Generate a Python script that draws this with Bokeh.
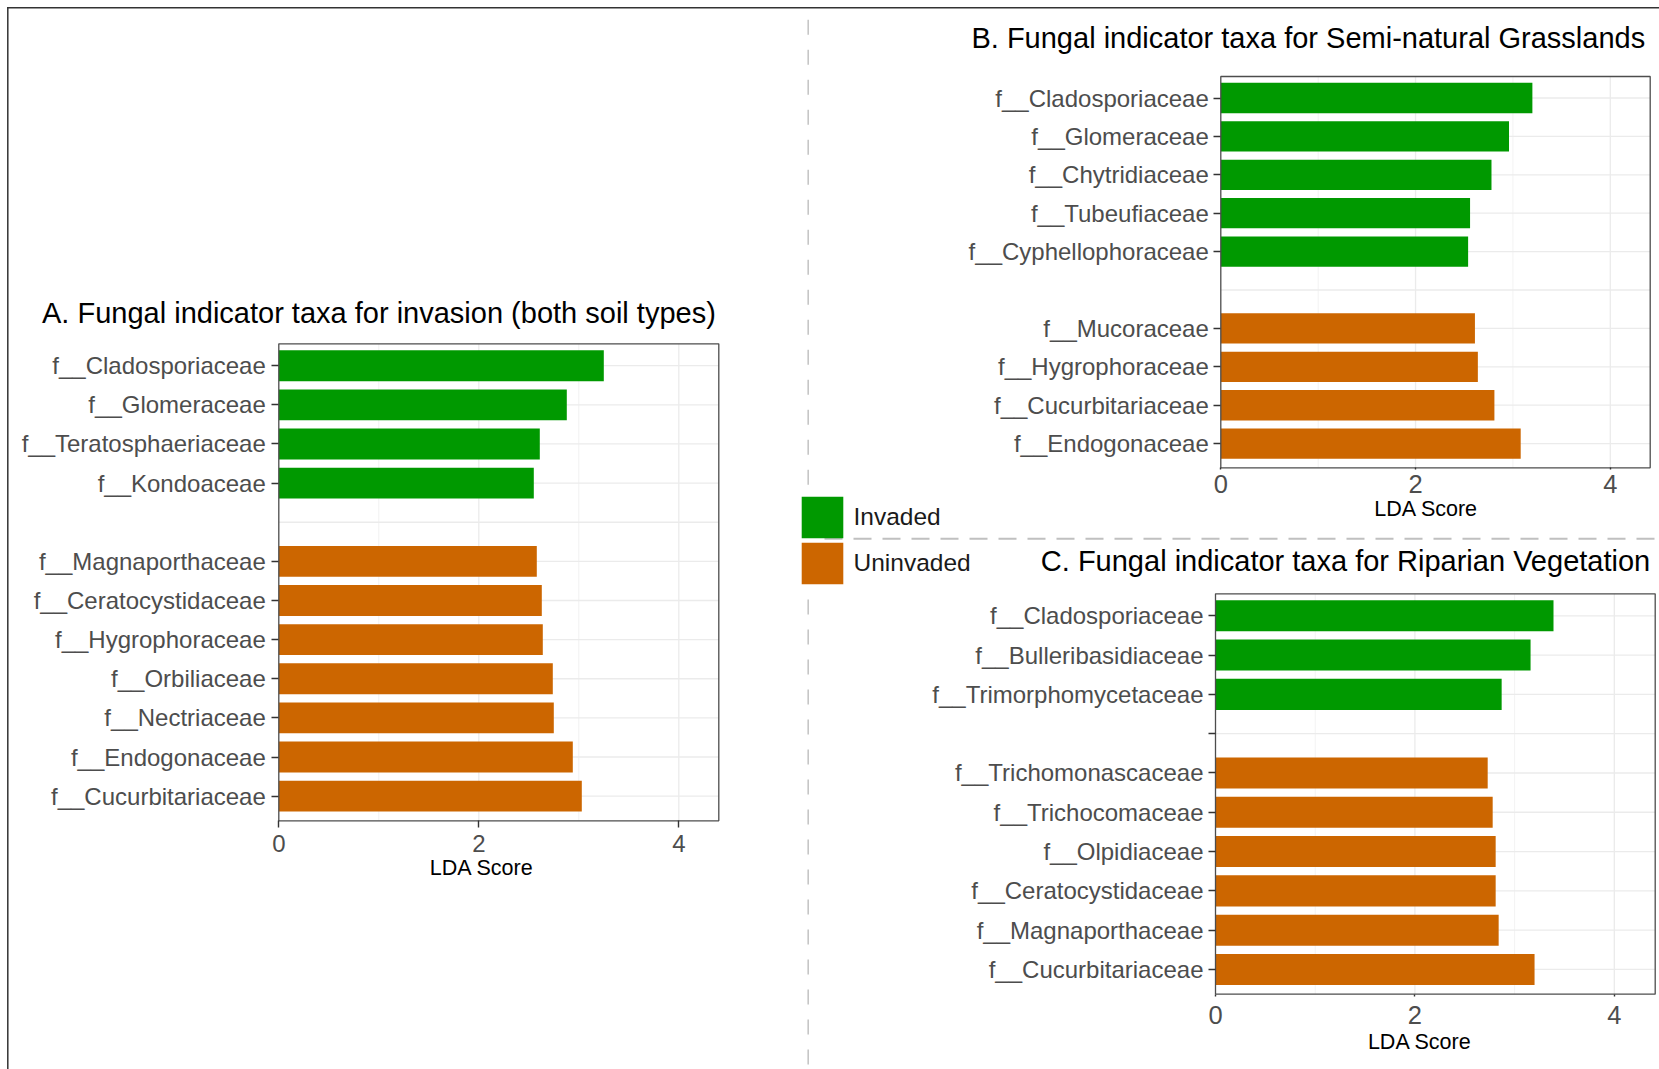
from bokeh.plotting import figure
from bokeh.models import (Range1d, FixedTicker, ColumnDataSource, LinearAxis,
                          Legend, LegendItem, Label, Grid)
from bokeh.embed import file_html
from bokeh.resources import INLINE

FONT = "Liberation Sans"
GREEN = "#009900"
ORANGE = "#CC6600"

# ---------------- data ----------------
a_inv_taxa = ["f__Cladosporiaceae", "f__Glomeraceae", "f__Teratosphaeriaceae", "f__Kondoaceae"]
a_inv_lda = [3.25, 2.88, 2.61, 2.55]
a_uninv_taxa = ["f__Magnaporthaceae", "f__Ceratocystidaceae", "f__Hygrophoraceae",
                "f__Orbiliaceae", "f__Nectriaceae", "f__Endogonaceae", "f__Cucurbitariaceae"]
a_uninv_lda = [2.58, 2.63, 2.64, 2.74, 2.75, 2.94, 3.03]

b_inv_taxa = ["f__Cladosporiaceae", "f__Glomeraceae", "f__Chytridiaceae",
              "f__Tubeufiaceae", "f__Cyphellophoraceae"]
b_inv_lda = [3.20, 2.96, 2.78, 2.56, 2.54]
b_uninv_taxa = ["f__Mucoraceae", "f__Hygrophoraceae", "f__Cucurbitariaceae", "f__Endogonaceae"]
b_uninv_lda = [2.61, 2.64, 2.81, 3.08]

c_inv_taxa = ["f__Cladosporiaceae", "f__Bulleribasidiaceae", "f__Trimorphomycetaceae"]
c_inv_lda = [3.39, 3.16, 2.87]
c_uninv_taxa = ["f__Trichomonascaceae", "f__Trichocomaceae", "f__Olpidiaceae",
                "f__Ceratocystidaceae", "f__Magnaporthaceae", "f__Cucurbitariaceae"]
c_uninv_lda = [2.73, 2.78, 2.81, 2.81, 2.84, 3.20]

x_ticks = [0, 2, 4]
x_minor_ticks = [1, 3]
legend_labels = ["Invaded", "Uninvaded"]
x_label = "LDA Score"
title_a = "A. Fungal indicator taxa for invasion (both soil types)"
title_b = "B. Fungal indicator taxa for Semi-natural Grasslands"
title_c = "C. Fungal indicator taxa for Riparian Vegetation"

# ---------------- canvas ----------------
W, H = 1659, 1069
PAD_TOP, PAD_BOT = 0.06, 0.13

p = figure(width=W, height=H, output_backend="svg", toolbar_location=None,
           x_range=Range1d(0, W), y_range=Range1d(H, 0), min_border=0,
           x_axis_location=None, y_axis_location=None, title=None)
p.outline_line_color = None
p.background_fill_color = "white"
p.border_fill_color = "white"
for g in p.select(type=Grid):
    g.visible = False

# page frame and dashed vertical separator (pixel coordinates, y downwards)
p.segment(x0=[807.7], y0=[7.3], x1=[807.7], y1=[488], line_color="#c6c6c6",
          line_width=1.6, line_dash="15 15", line_dash_offset=18)
p.segment(x0=[807.7], y0=[592], x1=[807.7], y1=[H], line_color="#c6c6c6",
          line_width=1.6, line_dash="15 15", line_dash_offset=23)
p.segment(x0=[7.3, 6.6], y0=[6.6, 7.3], x1=[7.3, W], y1=[H, 7.3],
          line_color="#333333", line_width=1.5)
# horizontal separator
p.segment(x0=[824], y0=[538.3], x1=[W], y1=[538.3], line_color="#c0c0c0",
          line_width=2, line_dash="18 11")


def add_panel(key, inv_taxa, inv_lda, un_taxa, un_lda, title, frame, x_end, cfg):
    fl, ft, fr, fb = frame
    taxa = inv_taxa + [""] + un_taxa
    n = len(taxa)
    blank = len(inv_taxa)
    y_top = -0.5 - PAD_TOP
    y_bot = n - 0.5 + PAD_BOT
    sx = (fr - fl) / x_end
    sy = (fb - ft) / (y_bot - y_top)
    xr, yr = "x" + key, "y" + key
    p.extra_x_ranges[xr] = Range1d(-fl / sx, x_end + (W - fr) / sx)
    p.extra_y_ranges[yr] = Range1d(y_bot + (H - fb) / sy, y_top - ft / sy)
    kw = dict(x_range_name=xr, y_range_name=yr)

    # grid lines
    gmaj = [t for t in x_ticks if 0 < t < x_end]
    gmin = [t for t in x_minor_ticks if 0 < t < x_end]
    p.segment(x0=gmin, x1=gmin, y0=[y_top] * len(gmin), y1=[y_bot] * len(gmin),
              line_color="#f0f0f0", line_width=0.9, **kw)
    p.segment(x0=gmaj, x1=gmaj, y0=[y_top] * len(gmaj), y1=[y_bot] * len(gmaj),
              line_color="#ebebeb", line_width=1.3, **kw)
    rows = list(range(n))
    p.segment(x0=[0] * n, x1=[x_end] * n, y0=rows, y1=rows,
              line_color="#ebebeb", line_width=1.3, **kw)

    # bars
    s_inv = ColumnDataSource(dict(row=list(range(blank)), lda=inv_lda))
    s_un = ColumnDataSource(dict(row=list(range(blank + 1, n)), lda=un_lda))
    r_inv = p.hbar(y="row", left=0, right="lda", height=0.79, source=s_inv,
                   fill_color=GREEN, line_color=None, **kw)
    r_un = p.hbar(y="row", left=0, right="lda", height=0.79, source=s_un,
                  fill_color=ORANGE, line_color=None, **kw)

    # panel border
    p.quad(left=[0], right=[x_end], top=[y_top], bottom=[y_bot], fill_color=None,
           line_color="#4d4d4d", line_width=1.3, **kw)

    # axes
    yticks = rows if cfg["blank_tick"] else [r for r in rows if r != blank]
    yax = LinearAxis(fixed_location=0, ticker=FixedTicker(ticks=yticks),
                     major_label_overrides={r: taxa[r] for r in rows},
                     bounds=(y_top, y_bot), **kw)
    xax = LinearAxis(fixed_location=y_bot, ticker=FixedTicker(ticks=x_ticks),
                     bounds=(0, x_end), **kw)
    for ax in (xax, yax):
        ax.axis_line_color = None
        ax.major_tick_in = 0
        ax.minor_tick_out = 0
        ax.minor_tick_in = 0
        ax.major_tick_line_color = "#333333"
        ax.major_tick_line_width = 1.4
        ax.major_label_text_font = FONT
        ax.major_label_text_color = "#4d4d4d"
    yax.major_label_text_font_size = "24px"
    yax.major_tick_out = 7
    yax.major_label_standoff = cfg["y_standoff"]
    xax.major_label_text_font_size = cfg["xtick_size"]
    xax.major_tick_out = cfg["x_tick_out"]
    xax.major_label_standoff = cfg["x_standoff"]
    p.add_layout(yax, "left")
    p.add_layout(xax, "below")

    # title and axis title
    p.add_layout(Label(x=x_end, y=y_top, x_offset=-cfg["title_dx"], y_offset=cfg["title_dy"],
                       text=title, text_align="right", text_baseline="alphabetic",
                       text_font=FONT, text_font_size="29px", text_color="#000000", **kw))
    p.add_layout(Label(x=cfg["xlab_x"], y=y_bot, y_offset=-cfg["xlab_dy"], text=x_label,
                       text_align="center", text_baseline="middle",
                       text_font=FONT, text_font_size="21.5px", text_color="#000000", **kw))
    return r_inv, r_un


rAi, rAu = add_panel("A", a_inv_taxa, a_inv_lda, a_uninv_taxa, a_uninv_lda, title_a,
                     (278.3, 343.3, 718.3, 820.3), 4.40,
                     dict(blank_tick=False, y_standoff=6, xtick_size="24px", x_tick_out=7,
                          x_standoff=7, title_dx=3, title_dy=31, xlab_x=2.03, xlab_dy=47))
add_panel("B", b_inv_taxa, b_inv_lda, b_uninv_taxa, b_uninv_lda, title_b,
          (1220.3, 76.0, 1649.7, 467.3), 4.41,
          dict(blank_tick=False, y_standoff=5, xtick_size="25.5px", x_tick_out=2,
               x_standoff=5, title_dx=5, title_dy=39, xlab_x=2.11, xlab_dy=40.7))
add_panel("C", c_inv_taxa, c_inv_lda, c_uninv_taxa, c_uninv_lda, title_c,
          (1215.0, 593.3, 1654.7, 993.7), 4.41,
          dict(blank_tick=True, y_standoff=5, xtick_size="25.5px", x_tick_out=2,
               x_standoff=10, title_dx=5, title_dy=32.6, xlab_x=2.05, xlab_dy=47.3))

# legend: one entry per box so the key spacing matches the reference
for lab, rend, vy in ((legend_labels[0], rAi, 526.5), (legend_labels[1], rAu, 480.5)):
    p.add_layout(Legend(items=[LegendItem(label=lab, renderers=[rend])],
                        location=(795.5, vy), glyph_width=52, glyph_height=52,
                        label_standoff=6, padding=0, margin=0, border_line_color=None,
                        background_fill_alpha=0.0,
                        label_text_font=FONT, label_text_font_size="24.5px",
                        label_text_color="#1a1a1a"))

open("out.html", "w").write(file_html(p, INLINE))
